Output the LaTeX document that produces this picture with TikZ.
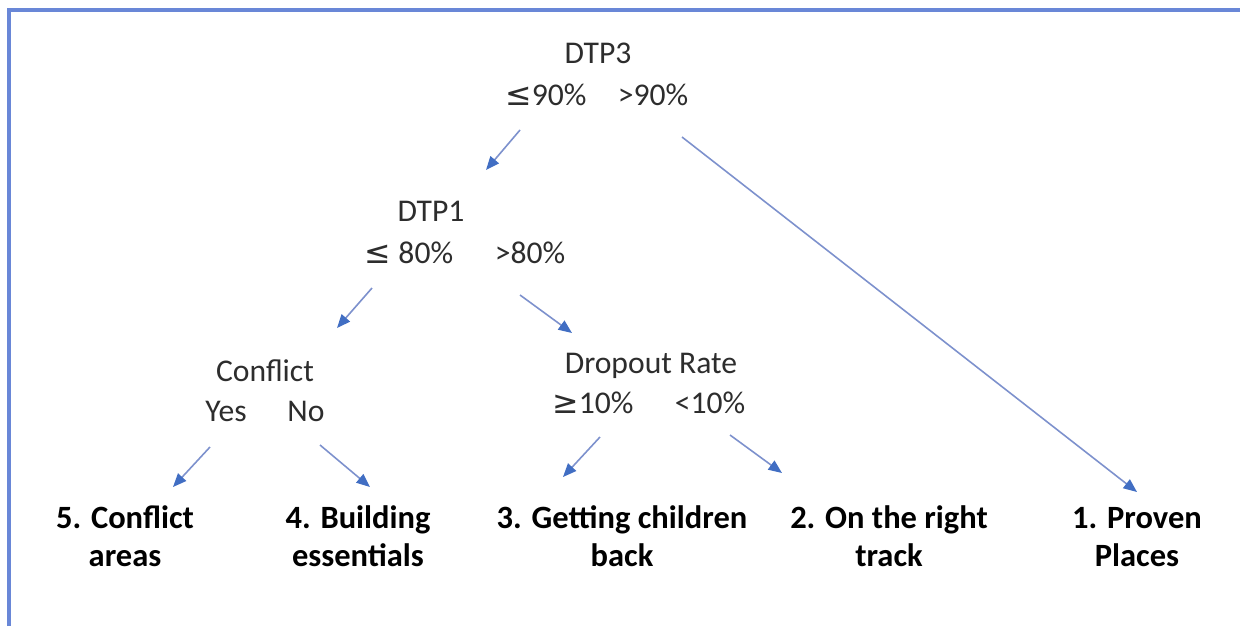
\documentclass[tikz,border=0pt]{standalone}
\usepackage{fontspec}
\setmainfont{Carlito}
\newfontfamily\symf{DejaVu Sans}
\usetikzlibrary{arrows.meta}

\definecolor{framecol}{RGB}{105,135,215}
\definecolor{linecol}{RGB}{125,145,205}
\definecolor{tipcol}{RGB}{65,110,195}
\definecolor{txtcol}{RGB}{45,45,45}

\tikzset{
  cond/.style={anchor=base,inner sep=0pt,text=txtcol,font=\fontsize{18}{22}\selectfont},
  leaf/.style={anchor=base,inner sep=0pt,align=center,font=\fontsize{18.5}{21.6}\selectfont\bfseries},
  branch/.style={draw=linecol,line width=0.9pt,-{Triangle[length=0.27cm,width=0.22cm,color=tipcol]}}
}

\begin{document}
\begin{tikzpicture}[x=0.02cm,y=-0.02cm]
\useasboundingbox (0,0) rectangle (1240,626);
\fill[white] (0,0) rectangle (1240,626);
\draw[framecol,line width=1.8pt] (9,626) -- (9,10) -- (1240,10);

% DTP3
\node[cond] (dtp3) at (598,63) {DTP3};
\node[cond] (dtp3le) at (546,105) {{\symf ≤}90\%};
\node[cond] (dtp3gt) at (653,105) {>90\%};

% DTP1
\node[cond] (dtp1) at (431,221) {DTP1};
\node[cond] (dtp1le) at (409,263) {{\symf ≤} 80\%};
\node[cond] (dtp1gt) at (530,263) {>80\%};

% Conflict
\node[cond] (confl) at (265,381) {Conflict};
\node[cond] (conyes) at (226,421) {Yes};
\node[cond] (conno) at (306,421) {No};

% Dropout Rate
\node[cond] (drop) at (651,373) {Dropout Rate};
\node[cond] (dropge) at (593,413) {{\symf ≥}10\%};
\node[cond] (droplt) at (710,413) {<10\%};

% groups (base = last line)
\node[leaf] (leaf5) at (125,566) {5. Conflict\\areas};
\node[leaf] (leaf4) at (358,566) {4. Building\\essentials};
\node[leaf] (leaf3) at (622,566) {3. Getting children\\back};
\node[leaf] (leaf2) at (889,566) {2. On the right\\track};
\node[leaf] (leaf1) at (1137,566) {1. Proven\\Places};

% branches
\draw[branch] ([shift={(-26,25)}]dtp3le.base) -- ([shift={(55,-51)}]dtp1.base);
\draw[branch] ([shift={(29,32)}]dtp3gt.base) -- ([shift={(0,-74)}]leaf1.base);
\draw[branch] ([shift={(-37,25)}]dtp1le.base) -- ([shift={(72,-53)}]confl.base);
\draw[branch] ([shift={(-10,32)}]dtp1gt.base) -- ([shift={(-79,-40)}]drop.base);
\draw[branch] ([shift={(-16,26)}]conyes.base) -- ([shift={(48,-79)}]leaf5.base);
\draw[branch] ([shift={(14,24)}]conno.base) -- ([shift={(12,-79)}]leaf4.base);
\draw[branch] ([shift={(7,24)}]dropge.base) -- ([shift={(-59,-89)}]leaf3.base);
\draw[branch] ([shift={(20,22)}]droplt.base) -- ([shift={(-107,-93)}]leaf2.base);

\end{tikzpicture}
\end{document}
